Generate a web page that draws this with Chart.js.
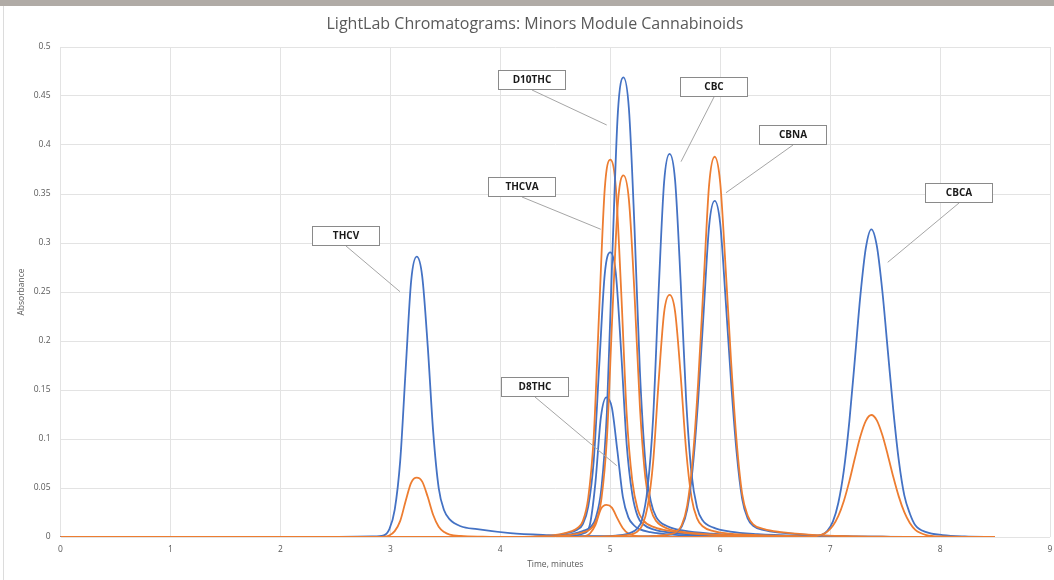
<!DOCTYPE html>
<html><head><meta charset="utf-8">
<script src="https://cdn.jsdelivr.net/npm/chart.js@4.4.1/dist/chart.umd.min.js"></script>
<style>
html,body{margin:0;padding:0;background:#fff;}
#wrap{position:relative;width:1054px;height:580px;overflow:hidden;background:#fff;}
#band{position:absolute;left:0;top:0;width:1054px;height:6px;background:#b0aba6;}
#frame{position:absolute;left:3px;top:6px;width:1px;height:574px;background:#dcdcdc;}
canvas{position:absolute;left:0;top:0;}
</style></head><body>
<div id="wrap"><canvas id="c" width="1054" height="580"></canvas><div id="band"></div><div id="frame"></div></div>
<script>
const TITLE = 'LightLab Chromatograms: Minors Module Cannabinoids';
const X_TITLE = 'Time, minutes';
const Y_TITLE = 'Absorbance';
const xTickValues = [0,1,2,3,4,5,6,7,8,9];
const yTickValues = [0,0.05,0.1,0.15,0.2,0.25,0.3,0.35,0.4,0.45,0.5];
const yTickLabels = ['0','0.05','0.1','0.15','0.2','0.25','0.3','0.35','0.4','0.45','0.5'];

// [time, absorbance]
const thcvBlue = [[0,0],[2.4,0],[2.84,0.0005],[2.94,0.0016],[2.99,0.0077],[3.04,0.028],[3.09,0.078],[3.14,0.172],[3.19,0.262],[3.24,0.286],[3.29,0.266],[3.34,0.195],[3.39,0.107],[3.44,0.050],[3.49,0.027],[3.54,0.018],[3.64,0.011],[3.79,0.008],[4.09,0.004],[4.44,0.002],[4.84,0.0008],[5.5,0],[8.5,0]];
const thcvOrange = [[0,0],[2.84,0],[2.94,0.0003],[2.99,0.0016],[3.04,0.006],[3.09,0.0165],[3.14,0.037],[3.19,0.0555],[3.24,0.0605],[3.29,0.0565],[3.34,0.041],[3.39,0.0225],[3.44,0.0105],[3.49,0.005],[3.54,0.0025],[3.64,0.001],[3.84,0.0003],[4.2,0],[8.5,0]];
const d8Blue = [[0,0],[4.4,0],[4.55,0.0006],[4.665,0.0015],[4.765,0.004],[4.815,0.0125],[4.865,0.055],[4.915,0.122],[4.965,0.1425],[5.015,0.132],[5.065,0.088],[5.115,0.041],[5.165,0.020],[5.215,0.012],[5.265,0.008],[5.365,0.005],[5.565,0.0025],[5.965,0.001],[6.5,0],[8.5,0]];
const d8Orange = [[0,0],[4.6,0],[4.715,0.0002],[4.765,0.0008],[4.815,0.0035],[4.865,0.012],[4.915,0.0285],[4.965,0.0327],[5.015,0.030],[5.065,0.019],[5.115,0.009],[5.165,0.0035],[5.215,0.0015],[5.315,0.0005],[5.6,0],[8.5,0]];
const thcvaBlue = [[0,0],[4.2,0],[4.4,0.0008],[4.5,0.0015],[4.6,0.0038],[4.7,0.0075],[4.75,0.013],[4.8,0.031],[4.85,0.078],[4.9,0.175],[4.95,0.268],[5.0,0.2905],[5.05,0.270],[5.1,0.188],[5.15,0.094],[5.2,0.044],[5.25,0.021],[5.3,0.013],[5.4,0.0075],[5.55,0.0045],[5.8,0.0023],[6.2,0.0011],[6.7,0.0004],[7.2,0],[8.5,0]];
const thcvaOrange = [[0,0],[4.2,0],[4.4,0.001],[4.55,0.003],[4.65,0.006],[4.7,0.009],[4.75,0.016],[4.8,0.040],[4.85,0.102],[4.9,0.232],[4.95,0.355],[5.0,0.385],[5.05,0.358],[5.1,0.250],[5.15,0.125],[5.2,0.058],[5.25,0.028],[5.3,0.017],[5.4,0.010],[5.55,0.006],[5.8,0.003],[6.2,0.0015],[6.7,0.0005],[7.2,0],[8.5,0]];
const d10Blue = [[0,0],[4.3,0],[4.5,0.001],[4.65,0.003],[4.75,0.006],[4.82,0.010],[4.87,0.020],[4.92,0.050],[4.97,0.128],[5.02,0.290],[5.07,0.434],[5.12,0.469],[5.17,0.437],[5.22,0.318],[5.27,0.169],[5.32,0.076],[5.37,0.036],[5.42,0.020],[5.52,0.011],[5.67,0.0065],[5.92,0.0035],[6.32,0.0015],[6.82,0.0005],[7.3,0],[8.5,0]];
const d10Orange = [[0,0],[4.3,0],[4.5,0.0008],[4.65,0.0024],[4.75,0.0047],[4.82,0.008],[4.87,0.016],[4.92,0.039],[4.97,0.101],[5.02,0.228],[5.07,0.341],[5.12,0.369],[5.17,0.344],[5.22,0.250],[5.27,0.133],[5.32,0.060],[5.37,0.028],[5.42,0.016],[5.52,0.0087],[5.67,0.005],[5.92,0.0027],[6.32,0.0012],[6.82,0.0004],[7.3,0],[8.5,0]];
const cbcBlue = [[0,0],[4.7,0],[4.9,0.0005],[5.05,0.0015],[5.15,0.003],[5.2,0.005],[5.24,0.008],[5.29,0.018],[5.34,0.050],[5.39,0.121],[5.44,0.250],[5.49,0.362],[5.54,0.391],[5.59,0.364],[5.64,0.262],[5.69,0.141],[5.74,0.064],[5.79,0.030],[5.84,0.017],[5.94,0.0095],[6.09,0.0055],[6.34,0.003],[6.74,0.0013],[7.24,0.0004],[7.7,0],[8.5,0]];
const cbcOrange = [[0,0],[4.7,0],[4.9,0.0003],[5.05,0.001],[5.15,0.002],[5.2,0.003],[5.24,0.005],[5.29,0.0115],[5.34,0.031],[5.39,0.076],[5.44,0.158],[5.49,0.229],[5.54,0.247],[5.59,0.230],[5.64,0.166],[5.69,0.089],[5.74,0.040],[5.79,0.019],[5.84,0.011],[5.94,0.006],[6.09,0.0035],[6.34,0.0019],[6.74,0.0008],[7.24,0.0003],[7.7,0],[8.5,0]];
const cbnaBlue = [[0,0],[5.1,0],[5.3,0.0004],[5.45,0.0013],[5.55,0.0027],[5.6,0.0045],[5.65,0.0106],[5.7,0.028],[5.75,0.070],[5.8,0.140],[5.85,0.230],[5.9,0.318],[5.95,0.343],[6.0,0.320],[6.05,0.242],[6.1,0.157],[6.15,0.086],[6.2,0.039],[6.25,0.019],[6.3,0.0115],[6.4,0.007],[6.55,0.0044],[6.8,0.0022],[7.15,0.0007],[7.55,0.0002],[8.0,0],[8.5,0]];
const cbnaOrange = [[0,0],[5.1,0],[5.3,0.0005],[5.45,0.0015],[5.55,0.003],[5.6,0.005],[5.65,0.012],[5.7,0.032],[5.75,0.079],[5.8,0.158],[5.85,0.260],[5.9,0.360],[5.95,0.388],[6.0,0.362],[6.05,0.274],[6.1,0.178],[6.15,0.097],[6.2,0.044],[6.25,0.022],[6.3,0.013],[6.4,0.008],[6.55,0.005],[6.8,0.0025],[7.15,0.0008],[7.55,0.0002],[8.0,0],[8.5,0]];
const cbcaBlue = [[0,0],[6.6,0],[6.825,0.0002],[6.875,0.0007],[6.925,0.0022],[6.975,0.0063],[7.025,0.0157],[7.075,0.035],[7.125,0.068],[7.175,0.118],[7.225,0.181],[7.275,0.246],[7.325,0.295],[7.375,0.314],[7.425,0.297],[7.475,0.251],[7.525,0.190],[7.575,0.129],[7.625,0.078],[7.675,0.0425],[7.725,0.024],[7.775,0.012],[7.875,0.005],[8.025,0.002],[8.225,0.0006],[8.5,0]];
const cbcaOrange = [[0,0],[6.6,0],[6.775,0.0001],[6.875,0.0009],[6.925,0.0024],[6.975,0.0055],[7.025,0.0114],[7.075,0.0215],[7.125,0.0368],[7.175,0.057],[7.225,0.0803],[7.275,0.1025],[7.325,0.1185],[7.375,0.1245],[7.425,0.119],[7.475,0.104],[7.525,0.0835],[7.575,0.0612],[7.625,0.0412],[7.675,0.0253],[7.725,0.0142],[7.775,0.0073],[7.875,0.002],[8.025,0.0005],[8.3,0],[8.5,0]];

// label callouts: name, box centre (time, absorbance), pointer tip (time, absorbance)
const labelNames = ['THCV','D10THC','CBC','THCVA','D8THC','CBNA','CBCA'];
const labelBox = [[2.601,0.3071],[4.284,0.4666],[5.946,0.4587],[4.200,0.3569],[4.313,0.1531],[6.667,0.4102],[8.168,0.3508]];
const labelTip = [[3.088,0.2503],[4.968,0.4204],[5.644,0.3830],[4.914,0.3140],[5.059,0.0728],[6.053,0.3513],[7.524,0.2803]];

const BLUE = '#4472C4', ORANGE = '#ED7D31';
const curves = [
  ['THCV 1', BLUE, thcvBlue], ['THCV 2', ORANGE, thcvOrange],
  ['D8THC 1', BLUE, d8Blue], ['D8THC 2', ORANGE, d8Orange],
  ['THCVA 1', BLUE, thcvaBlue], ['THCVA 2', ORANGE, thcvaOrange],
  ['D10THC 1', BLUE, d10Blue], ['D10THC 2', ORANGE, d10Orange],
  ['CBC 1', BLUE, cbcBlue], ['CBC 2', ORANGE, cbcOrange],
  ['CBNA 1', BLUE, cbnaBlue], ['CBNA 2', ORANGE, cbnaOrange],
  ['CBCA 1', BLUE, cbcaBlue], ['CBCA 2', ORANGE, cbcaOrange]
];
const datasets = curves.map(([label, color, pts]) => ({
  label, data: pts.map(p => ({x: p[0], y: p[1]})),
  borderColor: color, backgroundColor: color, borderWidth: 1.8,
  pointRadius: 0, fill: false, cubicInterpolationMode: 'monotone'
})).reverse();

const decor = {
  id: 'decor',
  beforeDraw(chart) {
    const ctx = chart.ctx;
    ctx.save(); ctx.fillStyle = '#fff'; ctx.fillRect(0, 0, chart.width, chart.height); ctx.restore();
  },
  afterDatasetsDraw(chart) {
    const {ctx, scales: {x, y}} = chart;
    ctx.save();
    ctx.font = '16px "Open Sans"';
    ctx.fillStyle = '#595959';
    ctx.textAlign = 'center';
    ctx.textBaseline = 'middle';
    ctx.fillText(TITLE, 535, 24);
    labelNames.forEach((name, i) => {
      const cx = Math.round(x.getPixelForValue(labelBox[i][0]));
      const cy = Math.round(y.getPixelForValue(labelBox[i][1]));
      const tx = x.getPixelForValue(labelTip[i][0]);
      const ty = y.getPixelForValue(labelTip[i][1]);
      ctx.strokeStyle = '#a6a6a6'; ctx.lineWidth = 1;
      ctx.beginPath(); ctx.moveTo(cx, cy + 10); ctx.lineTo(tx, ty); ctx.stroke();
      ctx.fillStyle = '#ffffff';
      ctx.fillRect(cx - 34, cy - 10, 68, 20);
      ctx.strokeStyle = '#8a8a8a';
      ctx.strokeRect(cx - 33.5, cy - 9.5, 67, 19);
      ctx.fillStyle = '#1a1a1a';
      ctx.font = 'bold 10px "Open Sans"';
      ctx.fillText(name, cx, cy + 0.5);
    });
    ctx.restore();
  }
};

new Chart(document.getElementById('c'), {
  type: 'line',
  data: { datasets },
  plugins: [decor],
  options: {
    responsive: false, animation: false, devicePixelRatio: 1,
    layout: { padding: { left: 12, right: 4, top: 47, bottom: 6 } },
    plugins: { legend: { display: false }, tooltip: { enabled: false }, title: { display: false } },
    scales: {
      x: {
        type: 'linear', min: 0, max: 9,
        afterBuildTicks: s => { s.ticks = xTickValues.map(v => ({value: v})); },
        afterFit: s => { s.height = 37; s.paddingLeft = 0; s.paddingRight = 0; },
        grid: { color: '#e3e3e3', lineWidth: 1, drawTicks: false, tickLength: 0 },
        border: { display: false },
        ticks: { color: '#595959', font: { family: 'Open Sans', size: 8.5 }, padding: 7, maxRotation: 0, autoSkip: false,
                 callback: v => String(v) },
        title: { display: true, text: X_TITLE, color: '#595959', font: { family: 'Open Sans', size: 8.5 }, padding: { top: 0, bottom: 4 } }
      },
      y: {
        type: 'linear', min: 0, max: 0.5,
        afterBuildTicks: s => { s.ticks = yTickValues.map(v => ({value: v})); },
        afterFit: s => { s.width = 48.5; s.paddingTop = 0; s.paddingBottom = 0; },
        grid: { color: '#e3e3e3', lineWidth: 1, drawTicks: false, tickLength: 0 },
        border: { display: false },
        ticks: { color: '#595959', font: { family: 'Open Sans', size: 8.5 }, padding: 10, autoSkip: false,
                 callback: (v) => { const i = yTickValues.findIndex(t => Math.abs(t - v) < 1e-9); return i >= 0 ? yTickLabels[i] : ''; } },
        title: { display: true, text: Y_TITLE, color: '#595959', font: { family: 'Open Sans', size: 8.5 }, padding: { top: 4, bottom: 0 } }
      }
    }
  }
});
</script>
</body></html>
